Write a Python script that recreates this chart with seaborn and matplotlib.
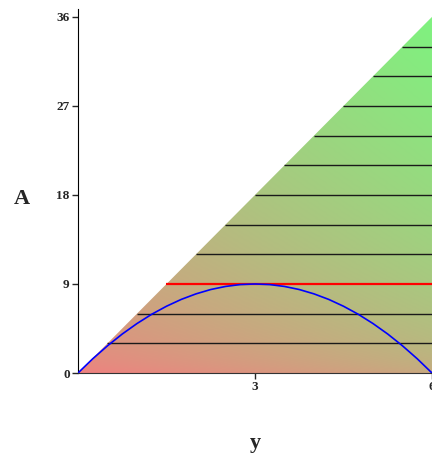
import numpy as np
import seaborn as sns
import matplotlib.pyplot as plt
from matplotlib.patches import Polygon
from matplotlib.colors import LinearSegmentedColormap

# region: 0 <= A <= slope * y, 0 <= y <= y_max
y_max = 6
bound_slope = 6

# parabola A = y(6 - y)
curve_y = [0, 0.25, 0.5, 0.75, 1, 1.25, 1.5, 1.75, 2, 2.25, 2.5, 2.75, 3,
           3.25, 3.5, 3.75, 4, 4.25, 4.5, 4.75, 5, 5.25, 5.5, 5.75, 6]
curve_A = [0, 1.44, 2.75, 3.94, 5.0, 5.94, 6.75, 7.44, 8.0, 8.44, 8.75, 8.94, 9.0,
           8.94, 8.75, 8.44, 8.0, 7.44, 6.75, 5.94, 5.0, 3.94, 2.75, 1.44, 0]

# horizontal level lines
levels = [3, 6, 12, 15, 18, 21, 24, 27, 30, 33]
max_level = 9

x_ticks = [3, 6]
y_ticks = [0, 9, 18, 27, 36]

sns.set_style("ticks")
plt.rcParams['font.family'] = ['Liberation Serif', 'DejaVu Serif']

fig = plt.figure(figsize=(4.32, 4.57), dpi=100)
ax = fig.add_axes([78 / 432, 84 / 457, 362 / 432, 364 / 457])

a_top = bound_slope * y_max

# gradient fill, red at the bottom left to green at the top
cmap = LinearSegmentedColormap.from_list("rg", ["#f08080", "#7ff27f"])
gy, ga = np.meshgrid(np.linspace(0, y_max, 300), np.linspace(0, a_top, 300))
shade = 0.35 * gy / y_max + 0.65 * (ga / a_top) ** 0.6
img = ax.imshow(shade, cmap=cmap, origin="lower", extent=(0, y_max, 0, a_top),
                aspect="auto", vmin=0, vmax=1, zorder=1)
tri = Polygon([(0, 0), (y_max, a_top), (y_max, 0)], closed=True,
              transform=ax.transData, facecolor="none", edgecolor="none")
ax.add_patch(tri)
img.set_clip_path(tri)

# level lines from the boundary to the right edge
lv = np.array(levels)
ax.hlines(lv, lv / bound_slope, y_max, color="#1a1a1a", linewidth=1.0, zorder=2)
ax.hlines(max_level, max_level / bound_slope, y_max, color="red", linewidth=1.6, zorder=3)

sns.lineplot(x=curve_y, y=curve_A, color="blue", linewidth=1.2, ax=ax, zorder=4,
             sort=False)

ax.set_xlim(0, 6.136)
ax.set_ylim(0, 36.8)
ax.set_xticks(x_ticks)
ax.set_yticks(y_ticks)
ax.tick_params(direction="out", length=4, width=1, labelsize=9.5, pad=2)
for lab in ax.get_xticklabels() + ax.get_yticklabels():
    lab.set_fontweight("bold")

sns.despine(ax=ax)
ax.spines["left"].set_color("black")
ax.spines["bottom"].set_color("#333333")

ax.set_xlabel("y", fontsize=16, fontweight="bold")
ax.set_ylabel("A", fontsize=16, fontweight="bold", rotation=0)
ax.xaxis.set_label_coords(0.489, -0.165)
ax.yaxis.set_label_coords(-0.155, 0.45)

fig.savefig("out.png", dpi=100)
